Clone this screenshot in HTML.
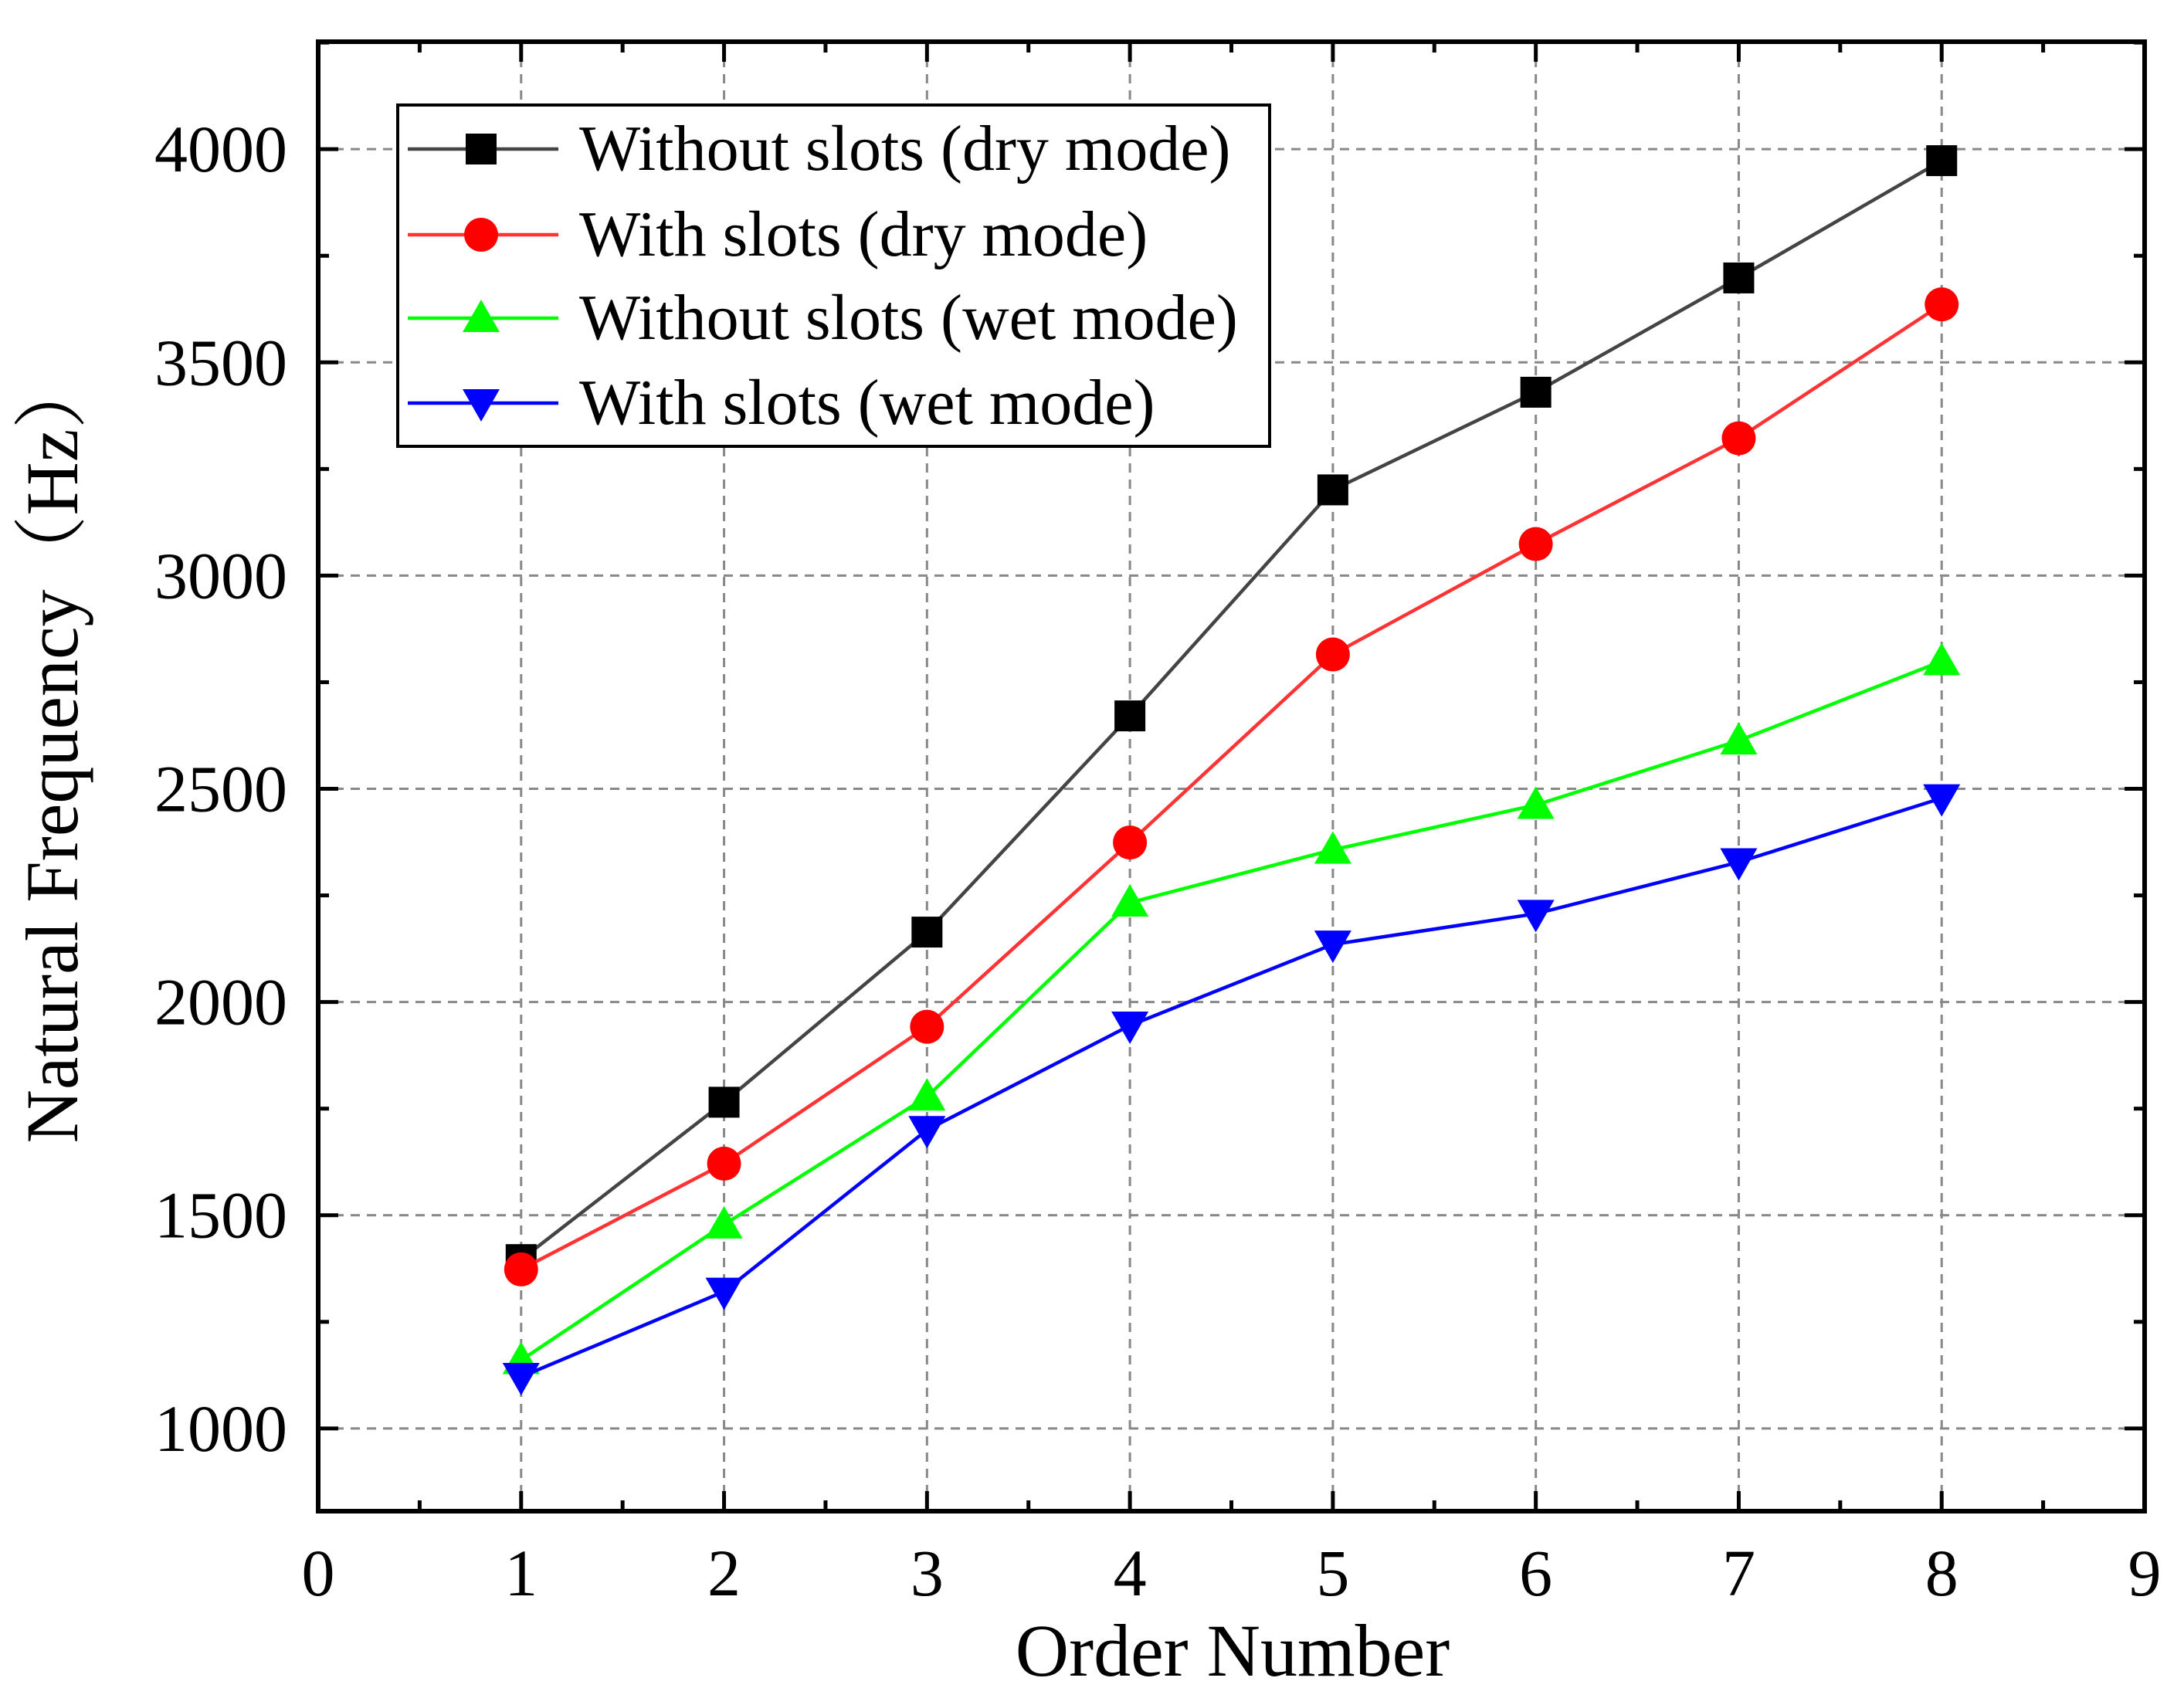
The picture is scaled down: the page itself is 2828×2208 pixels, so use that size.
<!DOCTYPE html>
<html><head><meta charset="utf-8"><style>
html,body{margin:0;padding:0;background:#fff;}
svg{display:block;font-family:"Liberation Serif","Noto Serif CJK SC",serif;}
</style></head><body>
<svg id="chart" width="2828" height="2208" viewBox="0 0 2828 2208" xmlns="http://www.w3.org/2000/svg">
<rect x="0" y="0" width="2828" height="2208" fill="#fff"/>
<g id="grid"></g>
<g id="series"></g>
<g id="axes"></g>
<g id="legend"></g>
<text x="1596" y="2170" font-size="96" text-anchor="middle">Order Number</text>
<text transform="translate(100,970) rotate(-90)" font-size="96" text-anchor="middle">Natural Frequency（Hz）</text>
</svg>
<script>
const categories = [1,2,3,4,5,6,7,8];
const seriesNames = ["Without slots (dry mode)","With slots (dry mode)","Without slots (wet mode)","With slots (wet mode)"];
const withoutDry = [1396,1765,2164,2671,3201,3430,3698,3973];
const withDry = [1373,1621,1942,2374,2815,3074,3322,3636];
const withoutWet = [1160,1478,1778,2233,2357,2462,2613,2799];
const withWet = [1121,1321,1700,1945,2135,2207,2328,2478];
const yTicks = [1000,1500,2000,2500,3000,3500,4000];
const xTicks = [0,1,2,3,4,5,6,7,8,9];

const NS="http://www.w3.org/2000/svg";
const L=412,R=2777,T=54,B=1957;
const xMin=0,xMax=9,yMin=806,yMax=4252;
const sx=v=>L+(v-xMin)/(xMax-xMin)*(R-L);
const sy=v=>B-(v-yMin)/(yMax-yMin)*(B-T);
function mk(tag,attrs,parent){const e=document.createElementNS(NS,tag);for(const k in attrs)e.setAttribute(k,attrs[k]);parent.appendChild(e);return e;}
const grid=document.getElementById('grid'),axes=document.getElementById('axes'),sg=document.getElementById('series'),lg=document.getElementById('legend');

yTicks.forEach(v=>{
  const l=mk('line',{x1:L,x2:R,y1:sy(v),y2:sy(v),stroke:'#888','stroke-width':3,'stroke-dasharray':'12 9'},grid);
  
  
});
xTicks.slice(1,-1).forEach(v=>{
  const l=mk('line',{x1:sx(v),x2:sx(v),y1:T,y2:B,stroke:'#888','stroke-width':3,'stroke-dasharray':'12 9'},grid);
  
  
});

const fr=mk('rect',{x:L,y:T,width:R-L,height:B-T,fill:'none',stroke:'#000','stroke-width':6},axes);


for(let i=0;i<=18;i++){
  const v=i/2,major=i%2===0,len=major?26:14,x=sx(v);
  mk('line',{x1:x,x2:x,y1:B,y2:B-len,stroke:'#000','stroke-width':5},axes);
  mk('line',{x1:x,x2:x,y1:T,y2:T+len,stroke:'#000','stroke-width':5},axes);
}
xTicks.forEach(v=>{
  const t=mk('text',{x:sx(v),y:2066,'font-size':86,'text-anchor':'middle'},axes);
  t.textContent=v;
  
  
});
for(let v=1000;v<=4250;v+=250){
  const major=v%500===0,len=major?26:14,y=sy(v);
  mk('line',{x1:L,x2:L+len,y1:y,y2:y,stroke:'#000','stroke-width':5},axes);
  mk('line',{x1:R,x2:R-len,y1:y,y2:y,stroke:'#000','stroke-width':5},axes);
}
yTicks.forEach(v=>{
  const t=mk('text',{x:372,y:sy(v)+29,'font-size':86,'text-anchor':'end'},axes);
  t.textContent=v;
  
  
});

const colors=['#000','#f00','#0f0','#00f'];
const lineColors=['#444','#f33','#0f0','#00f'];
const shapes=['square','circle','up','down'];
const allData=[withoutDry,withDry,withoutWet,withWet];
function marker(shape,x,y,color,parent){
  let e;
  if(shape==='square') e=mk('rect',{x:x-20,y:y-20,width:40,height:40,fill:color},parent);
  else if(shape==='circle') e=mk('circle',{cx:x,cy:y,r:22,fill:color},parent);
  else if(shape==='up') e=mk('polygon',{points:`${x},${y-24} ${x-24},${y+18} ${x+24},${y+18}`,fill:color},parent);
  else e=mk('polygon',{points:`${x},${y+24} ${x-24},${y-18} ${x+24},${y-18}`,fill:color},parent);
  return e;
}
allData.forEach((data,si)=>{
  const g=mk('g',{},sg);
  
  
  const pts=data.map((v,i)=>sx(categories[i])+','+sy(v)).join(' ');
  const pl=mk('polyline',{points:pts,fill:'none',stroke:lineColors[si],'stroke-width':4.5},g);
  
  
  data.forEach((v,i)=>{
    const m=marker(shapes[si],sx(categories[i]),sy(v),colors[si],g);
    
    
  });
});

const lb=mk('rect',{x:515,y:136,width:1129,height:442,fill:'#fff',stroke:'#000','stroke-width':4},lg);


const ly=[193,304,412,522];
seriesNames.forEach((n,i)=>{
  const g=mk('g',{},lg);
  
  
  mk('line',{x1:528,x2:723,y1:ly[i],y2:ly[i],stroke:lineColors[i],'stroke-width':4.5},g);
  marker(shapes[i],623,ly[i],colors[i],g);
  const t=mk('text',{x:750,y:ly[i]+27,'font-size':84},g);
  t.textContent=n;
});
</script>
</body></html>
